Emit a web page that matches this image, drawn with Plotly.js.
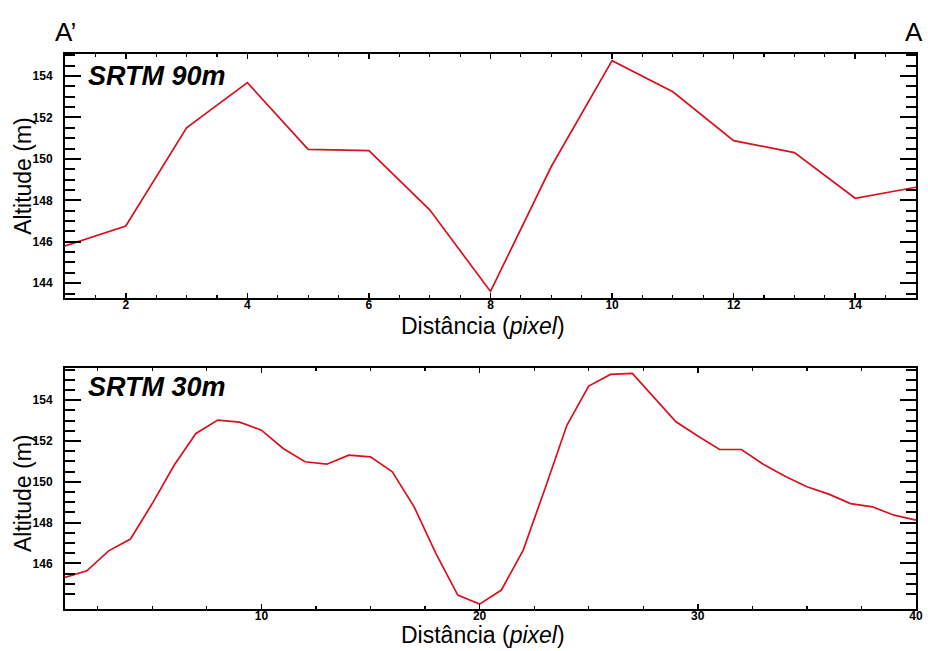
<!DOCTYPE html>
<html>
<head>
<meta charset="utf-8">
<script src="https://cdn.plot.ly/plotly-3.0.1.min.js"></script>
<style>html,body{margin:0;padding:0;background:#fff;}#chart{width:928px;height:651px;}</style>
</head>
<body>
<div id="chart"></div>
<script>
// SRTM 90m profile (distance in pixels vs altitude in m)
const dist90 = [1,2,3,4,5,6,7,8,9,10,11,12,13,14,15];
const alt90 = [145.8,146.76,151.5,153.68,150.46,150.4,147.54,143.6,149.63,154.74,153.24,150.88,150.3,148.1,148.63];

// SRTM 30m profile
const dist30 = [1,2,3,4,5,6,7,8,9,10,11,12,13,14,15,16,17,18,19,20,21,22,23,24,25,26,27,28,29,30,31,32,33,34,35,36,37,38,39,40];
const alt30 = [145.31,145.63,146.61,147.19,148.93,150.81,152.37,153.02,152.92,152.53,151.63,150.98,150.86,151.3,151.22,150.49,148.77,146.48,144.44,144.0,144.69,146.65,149.67,152.77,154.69,155.26,155.31,154.12,152.94,152.24,151.58,151.58,150.86,150.27,149.75,149.39,148.93,148.77,148.36,148.12];

// Tick values for the lower y axis
const yTicks30 = [146,148,150,152,154];
const yTickText30 = ['146','148','150','152','154'];
const yMinor30 = [144.5,145,145.5,146.5,147,147.5,148.5,149,149.5,150.5,151,151.5,152.5,153,153.5,154.5,155,155.5];

const labels = {
  ytitle: 'Altitude (m)',
  xtitle: 'Distância (<i>pixel</i>)',
  top: '<b><i>SRTM 90m</i></b>',
  bottom: '<b><i>SRTM 30m</i></b>',
  left: 'A’',
  right: 'A'
};

const lineColor = '#d81020';
const fontFam = 'Liberation Sans, Arial, sans-serif';

const traces = [
  {x: dist90, y: alt90, type: 'scatter', mode: 'lines', line: {color: lineColor, width: 1.7}, xaxis: 'x', yaxis: 'y', hoverinfo: 'skip'},
  {x: dist30, y: alt30, type: 'scatter', mode: 'lines', line: {color: lineColor, width: 1.7}, xaxis: 'x2', yaxis: 'y2', hoverinfo: 'skip'}
];

const tickFont = {family: fontFam, size: 12, color: '#000', weight: 'bold'};
const titleFont = {family: fontFam, size: 23, color: '#000'};

function xax(range, dtick, minorDtick, anchor) {
  return {
    range: range, anchor: anchor, domain: [0, 1],
    showline: true, linecolor: '#000', linewidth: 2, mirror: 'ticks',
    ticks: 'inside', ticklen: 5, tickwidth: 1.5, tickcolor: '#000',
    tickmode: 'linear', tick0: 0, dtick: dtick,
    minor: {dtick: minorDtick, tick0: 0, ticks: 'inside', ticklen: 3, tickwidth: 1.2, tickcolor: '#000'},
    showgrid: false, zeroline: false,
    tickfont: tickFont, ticklabelstandoff: -5
  };
}

function yax(range, domain, anchor) {
  return {
    range: range, domain: domain, anchor: anchor,
    showline: true, linecolor: '#000', linewidth: 2, mirror: 'ticks',
    ticks: 'inside', ticklen: 16, tickwidth: 2, tickcolor: '#000',
    minor: {ticks: 'inside', ticklen: 10, tickwidth: 2, tickcolor: '#000'},
    showgrid: false, zeroline: false,
    tickfont: tickFont, ticklabelstandoff: 8
  };
}

const yaxis1 = yax([143.3, 155.06], [0.5609, 1], 'x');
Object.assign(yaxis1, {tickmode: 'linear', tick0: 0, dtick: 2});
Object.assign(yaxis1.minor, {dtick: 0.5, tick0: 0});

const yaxis2 = yax([143.76, 155.6], [0, 0.4351], 'x2');
Object.assign(yaxis2, {tickmode: 'array', tickvals: yTicks30, ticktext: yTickText30});
Object.assign(yaxis2.minor, {tickmode: 'array', tickvals: yMinor30});

const ann = (text, xref, yref, x, y, xanchor, font, extra) => Object.assign({text, xref, yref, x, y, xanchor, yanchor: 'middle', showarrow: false, font}, extra || {});

const layout = {
  width: 928, height: 651,
  margin: {l: 65, r: 12, t: 54, b: 42},
  paper_bgcolor: '#fff', plot_bgcolor: '#fff',
  showlegend: false,
  font: {family: fontFam, color: '#000'},
  xaxis: xax([1, 15], 2, 0.5, 'y'),
  xaxis2: xax([1, 40], 10, 2.5, 'y2'),
  yaxis: yaxis1,
  yaxis2: yaxis2,
  annotations: [
    ann(labels.top, 'x domain', 'y domain', 0.025, 0.91, 'left', {family: fontFam, size: 27, color: '#000'}),
    ann(labels.bottom, 'x2 domain', 'y2 domain', 0.025, 0.92, 'left', {family: fontFam, size: 27, color: '#000'}),
    ann(labels.left, 'paper', 'paper', -0.0141, 1.039, 'left', {family: fontFam, size: 26, color: '#000'}),
    ann(labels.right, 'paper', 'paper', 0.9847, 1.039, 'left', {family: fontFam, size: 26, color: '#000'}),
    ann(labels.xtitle, 'x domain', 'y domain', 0.491, -0.117, 'center', titleFont),
    ann(labels.xtitle, 'x2 domain', 'y2 domain', 0.491, -0.107, 'center', titleFont),
    ann(labels.ytitle, 'paper', 'y domain', -0.0494, 0.5, 'center', titleFont, {textangle: -90}),
    ann(labels.ytitle, 'paper', 'y2 domain', -0.0494, 0.48, 'center', titleFont, {textangle: -90})
  ]
};

Plotly.newPlot('chart', traces, layout, {staticPlot: true, displayModeBar: false});
</script>
</body>
</html>
